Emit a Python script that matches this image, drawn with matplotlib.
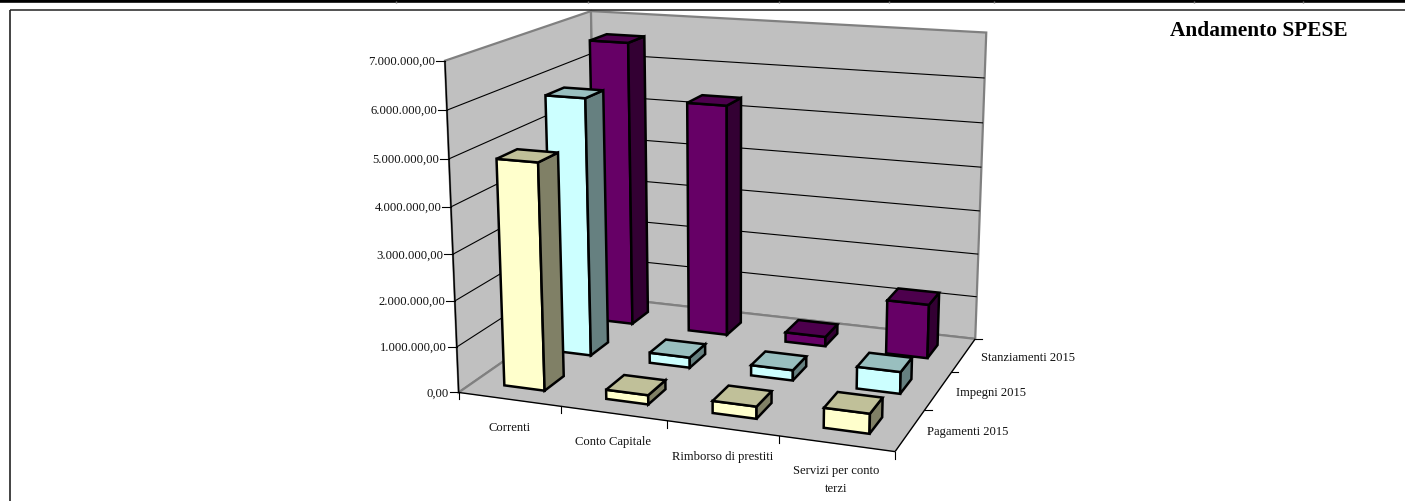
import numpy as np
import matplotlib
matplotlib.use('Agg')
import matplotlib.pyplot as plt
from matplotlib.patches import Polygon

categories = ['Correnti', 'Conto Capitale', 'Rimborso di prestiti', 'Servizi per conto\nterzi']
series_names = ['Pagamenti 2015', 'Impegni 2015', 'Stanziamenti 2015']
pagamenti = [4900000, 200000, 260000, 420000]
impegni = [5780000, 230000, 230000, 480000]
stanziamenti = [6600000, 5330000, 220000, 1230000]
series_values = [pagamenti, impegni, stanziamenti]
value_ticks = [0, 1000000, 2000000, 3000000, 4000000, 5000000, 6000000, 7000000]
value_labels = ['0,00', '1.000.000,00', '2.000.000,00', '3.000.000,00',
                '4.000.000,00', '5.000.000,00', '6.000.000,00', '7.000.000,00']

# front, right side and top colours per series
colors = [('#FFFFCC', '#808066', '#C0C099'),
          ('#CCFFFF', '#668080', '#99BFBF'),
          ('#660066', '#330033', '#4D004D')]
WALL = '#C0C0C0'
WALL_EDGE = '#808080'
BAR_SIZE = 0.4
VMAX = 7000000
TEXT = '#111111'
LABEL_SIZE = 9.1

plt.rcParams['font.family'] = ['Liberation Serif', 'DejaVu Serif']

# camera: (category, depth, value in millions) -> pixel
anchors_3d = [(0, 0, 0), (4, 0, 0), (4, 3, 0), (0, 3, 0), (0, 0, 7), (0, 3, 7), (4, 3, 7), (4, 3, 3), (0, 0, 3)]
anchors_px = [(458.3, 394), (895, 452.3), (975.7, 340), (597, 297), (445, 61.7),
              (590.7, 12.3), (986.7, 33.3), (979, 212.3), (453.3, 255)]


def solve_camera(pts3, pts2):
    rows = []
    for (x, y, z), (u, v) in zip(pts3, pts2):
        rows.append([x, y, z, 1, 0, 0, 0, 0, -u * x, -u * y, -u * z, -u])
        rows.append([0, 0, 0, 0, x, y, z, 1, -v * x, -v * y, -v * z, -v])
    _, _, vt = np.linalg.svd(np.array(rows, dtype=float))
    return vt[-1].reshape(3, 4)


CAM = solve_camera(anchors_3d, anchors_px)


def project(x, d, value):
    p = CAM @ np.array([x, d, value / 1e6, 1.0])
    return p[0] / p[2], p[1] / p[2]


fig = plt.figure(figsize=(14.05, 5.02), dpi=100)
ax = fig.add_axes([0, 0, 1, 1])
ax.set_xlim(0, 1405)
ax.set_ylim(502, 0)
ax.axis('off')

# page rules around the chart
ax.plot([0, 1405], [1.5, 1.5], color='black', lw=2.6, solid_capstyle='butt')
for nx_gap in [396, 588, 779, 889, 994, 1194, 1303]:
    ax.plot([nx_gap, nx_gap], [1.8, 3.6], color='#777777', lw=1.0, solid_capstyle='butt')
ax.plot([9.5, 1405], [11, 11], color='#333333', lw=1.2, solid_capstyle='butt')
ax.plot([9.5, 9.5], [11, 502], color='#222222', lw=1.2, solid_capstyle='butt')


def face(points, fc, ec=WALL_EDGE, lw=1.0, z=1):
    ax.add_patch(Polygon([project(*p) for p in points], closed=True, facecolor=fc,
                         edgecolor=ec, linewidth=lw, joinstyle='miter', zorder=z))


def seg(a, b, color='black', lw=0.8, z=2):
    pa, pb = project(*a), project(*b)
    ax.plot([pa[0], pb[0]], [pa[1], pb[1]], color=color, lw=lw, zorder=z, solid_capstyle='butt')


nx, nd = len(categories), len(series_names)

# walls and floor
face([(0, 0, 0), (0, nd, 0), (0, nd, VMAX), (0, 0, VMAX)], WALL, lw=1.6)
face([(0, nd, 0), (nx, nd, 0), (nx, nd, VMAX), (0, nd, VMAX)], WALL, lw=1.6)
face([(0, 0, 0), (nx, 0, 0), (nx, nd, 0), (0, nd, 0)], WALL, ec=WALL, lw=0.5)

# gridlines along both walls
for v in value_ticks[1:-1]:
    seg((0, 0, v), (0, nd, v))
    seg((0, nd, v), (nx, nd, v))
seg((0, 0, 0), (0, nd, 0), color=WALL_EDGE, lw=1.6)
seg((0, nd, 0), (nx, nd, 0), color=WALL_EDGE, lw=1.6)

# axis lines
seg((0, 0, 0), (0, 0, VMAX), lw=1.0, z=3)
seg((0, 0, 0), (nx, 0, 0), lw=1.0, z=3)
seg((nx, 0, 0), (nx, nd, 0), lw=1.0, z=3)

# value axis ticks and labels
for v, lab in zip(value_ticks, value_labels):
    px, py = project(0, 0, v)
    ax.plot([px - 9, px], [py, py], color='black', lw=0.8, zorder=3)
    ax.text(px - 9.5, py, lab, ha='right', va='center', fontsize=LABEL_SIZE, color=TEXT)

# category ticks and labels
for i in range(nx + 1):
    px, py = project(i, 0, 0)
    ax.plot([px, px], [py, py + 7], color='black', lw=0.8, zorder=3)
for i, lab in enumerate(categories):
    px, py = project(i + 0.5, 0, 0)
    if '\n' in lab:
        ax.text(px, py + 20, lab, ha='center', va='top', fontsize=LABEL_SIZE, color=TEXT, linespacing=1.7)
    else:
        ax.text(px, py + 27.5, lab, ha='center', va='center', fontsize=LABEL_SIZE, color=TEXT)

# depth ticks and labels
for j in range(1, nd + 1):
    px, py = project(nx, j, 0)
    ax.plot([px, px + 7], [py, py], color='black', lw=0.8, zorder=3)
for j, lab in enumerate(series_names):
    px, py = project(nx, j + 0.5, 0)
    ax.text(px + 17, py + 1.5, lab, ha='left', va='center', fontsize=LABEL_SIZE, color=TEXT)

# bars back to front so nearer series cover the ones behind
z = 10
for j in reversed(range(nd)):
    front, side, top = colors[j]
    for i in range(nx):
        v = series_values[j][i]
        x0 = i + 0.5 - BAR_SIZE / 2
        x1 = i + 0.5 + BAR_SIZE / 2
        d0 = j + 0.5 - BAR_SIZE / 2
        d1 = j + 0.5 + BAR_SIZE / 2
        face([(x0, d0, 0), (x1, d0, 0), (x1, d0, v), (x0, d0, v)], front, ec='black', lw=1.8, z=z)
        face([(x1, d0, 0), (x1, d1, 0), (x1, d1, v), (x1, d0, v)], side, ec='black', lw=1.8, z=z)
        face([(x0, d0, v), (x1, d0, v), (x1, d1, v), (x0, d1, v)], top, ec='black', lw=1.8, z=z)
        z += 1

ax.text(1348, 30.5, 'Andamento SPESE', ha='right', va='center', fontsize=15.4,
        fontweight='bold', color='black')

fig.savefig('out.png', dpi=100)
